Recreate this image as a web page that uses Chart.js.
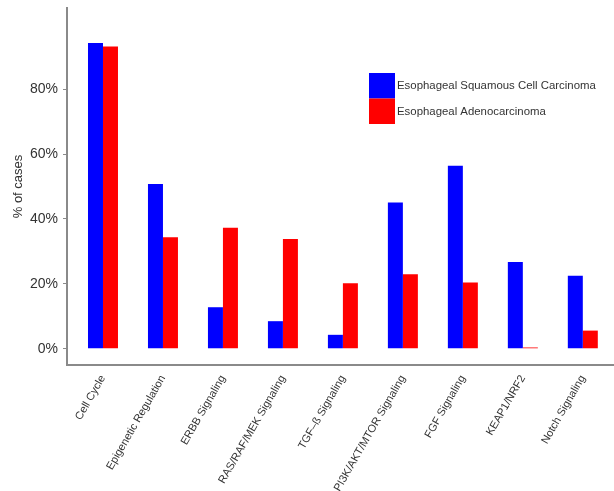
<!DOCTYPE html>
<html>
<head>
<meta charset="utf-8">
<title>Pathway alterations in esophageal cancer</title>
<script src="https://cdn.jsdelivr.net/npm/chart.js@4.4.1/dist/chart.umd.min.js"></script>
<style>
  html, body { margin: 0; padding: 0; background: #fff; overflow: hidden; }
  #wrap { width: 614px; height: 491px; position: relative; }
</style>
</head>
<body>
<div id="wrap"><canvas id="chart" width="614" height="491"></canvas></div>
<script>
// Pathway categories along the x axis
const categories = [
  'Cell Cycle',
  'Epigenetic Regulation',
  'ERBB Signaling',
  'RAS/RAF/MEK Signaling',
  'TGF\u2013\u00df Signaling',
  'PI3K/AKT/MTOR Signaling',
  'FGF Signaling',
  'KEAP1/NRF2',
  'Notch Signaling'
];

// Percentage of cases with alterations, per subtype
const squamousValues = [94.2, 50.8, 12.8, 8.5, 4.3, 45.1, 56.4, 26.7, 22.5];
const adenoValues    = [93.1, 34.4, 37.3, 33.8, 20.2, 23.0, 20.4, 0.4, 5.6];

// Labelled y ticks (percent)
const yTickValues = [0, 20, 40, 60, 80];

const seriesNames = ['Esophageal Squamous Cell Carcinoma', 'Esophageal Adenocarcinoma'];
const seriesColors = ['#0000ff', '#ff0000'];

const FONT = '"Liberation Sans", Arial, Helvetica, sans-serif';
const TEXT = '#333333';
const AXIS = '#8a8a8a';

const toPoints = vals => vals.map((v, i) => ({ x: i, y: v }));

// Stacked colour swatches with labels, placed inside the plot panel
const swatchLegend = {
  id: 'swatchLegend',
  afterDraw(chart) {
    const ctx = chart.ctx;
    const x0 = 369, y0 = 73, w = 26, h = 25.5;
    ctx.save();
    ctx.font = '11.4px ' + FONT;
    ctx.textBaseline = 'middle';
    ctx.textAlign = 'left';
    chart.data.datasets.forEach((ds, i) => {
      const y = y0 + i * h;
      ctx.fillStyle = ds.backgroundColor;
      ctx.fillRect(x0, y, w, h);
      ctx.fillStyle = TEXT;
      ctx.fillText(ds.label, x0 + w + 2, y + h / 2 + 0.5);
    });
    ctx.restore();
  }
};

new Chart(document.getElementById('chart'), {
  type: 'bar',
  data: {
    datasets: [
      { label: seriesNames[0], data: toPoints(squamousValues), backgroundColor: seriesColors[0], borderWidth: 0 },
      { label: seriesNames[1], data: toPoints(adenoValues),    backgroundColor: seriesColors[1], borderWidth: 0 }
    ]
  },
  options: {
    responsive: false,
    animation: false,
    devicePixelRatio: 1,
    categoryPercentage: 0.5,
    barPercentage: 1.0,
    layout: { padding: { left: 0, top: 8, right: 0, bottom: 0 } },
    plugins: {
      legend: { display: false },
      tooltip: { enabled: false }
    },
    scales: {
      x: {
        type: 'linear',
        min: -0.6,
        max: 8.52,
        offset: false,
        grid: { display: false, offset: false },
        border: { display: true, color: AXIS, width: 2 },
        afterBuildTicks: scale => { scale.ticks = categories.map((c, i) => ({ value: i })); },
        afterFit: scale => { scale.height = 126; scale.paddingLeft = 0; scale.paddingRight = 0; },
        ticks: {
          autoSkip: false,
          minRotation: 60,
          maxRotation: 60,
          padding: 0,
          color: TEXT,
          font: { family: FONT, size: 11 },
          callback: v => categories[Math.round(v)]
        }
      },
      y: {
        type: 'linear',
        min: -5,
        max: 105,
        grid: { display: true, drawOnChartArea: false, drawTicks: true, tickLength: 4, color: AXIS, lineWidth: 1 },
        border: { display: true, color: AXIS, width: 2 },
        afterBuildTicks: scale => { scale.ticks = yTickValues.map(v => ({ value: v })); },
        afterFit: scale => { scale.width = 67; scale.paddingTop = 0; scale.paddingBottom = 0; },
        title: {
          display: true,
          text: '% of cases',
          color: TEXT,
          font: { family: FONT, size: 13 },
          padding: { top: 11, bottom: 0 }
        },
        ticks: {
          padding: 5,
          color: TEXT,
          font: { family: FONT, size: 14 },
          callback: v => v + '%'
        }
      }
    }
  },
  plugins: [swatchLegend]
});
</script>
</body>
</html>
